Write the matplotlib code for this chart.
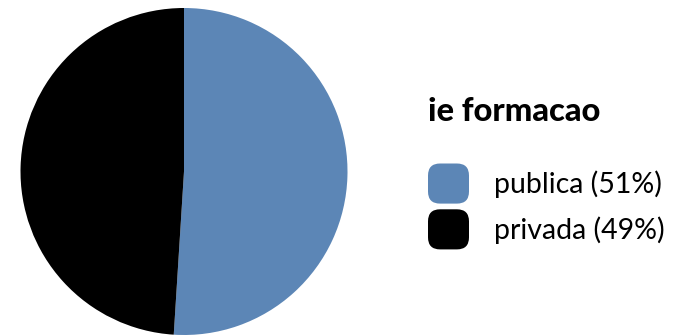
import matplotlib
matplotlib.use('Agg')
import matplotlib.pyplot as plt
from matplotlib.patches import FancyBboxPatch
from matplotlib.legend_handler import HandlerPatch

# share of students by type of institution
labels = ['publica', 'privada']
shares = [51, 49]
colors = ['#5c86b6', '#000000']
legend_title = 'ie formacao'

plt.rcParams['font.family'] = ['Lato', 'DejaVu Sans']

fig = plt.figure(figsize=(6.74, 3.36), dpi=100)
ax = fig.add_axes([20 / 674, 1 / 336, 328 / 674, 327 / 336])

wedges, _ = ax.pie(shares, colors=colors, startangle=90, counterclock=False,
                   wedgeprops={'linewidth': 0})
ax.set_xlim(-1, 1)
ax.set_ylim(-1, 1)
ax.set_aspect('equal')


def rounded_box(legend, orig_handle, xdescent, ydescent, width, height, fontsize):
    r = 0.3 * height
    return FancyBboxPatch((-xdescent + r, -ydescent + r), width - 2 * r, height - 2 * r,
                          boxstyle='round,pad=%f' % r)


fs = 20.5
leg_labels = ['%s (%d%%)' % (l, s) for l, s in zip(labels, shares)]
leg = fig.legend(wedges, leg_labels, title=legend_title,
                 loc='upper left', bbox_to_anchor=(428 / 674, 1 - 97 / 336),
                 frameon=False, fontsize=fs, alignment='left',
                 title_fontproperties={'weight': 'black', 'size': 23.5},
                 handlelength=1.44, handleheight=1.79, handletextpad=0.88,
                 labelspacing=0.2, borderpad=0, borderaxespad=0,
                 handler_map={w: HandlerPatch(patch_func=rounded_box) for w in wedges})
leg._legend_box.sep = 27

fig.savefig('out.png', dpi=100)
